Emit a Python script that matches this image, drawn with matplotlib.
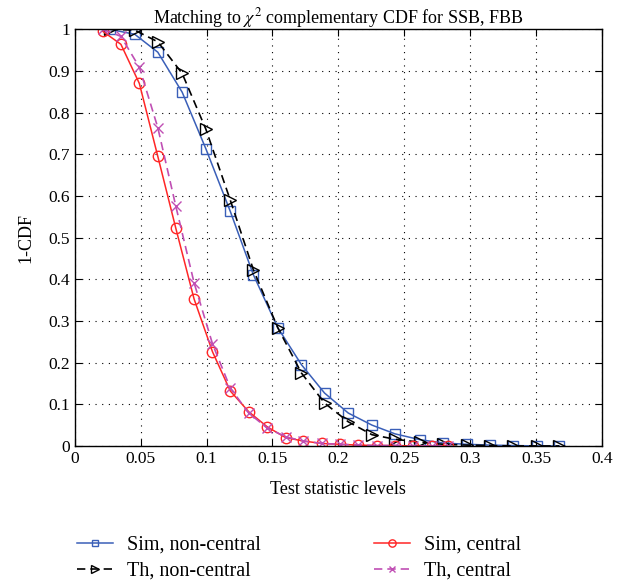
"""Matching to chi^2 complementary CDF for SSB, FBB."""
import matplotlib
matplotlib.use("Agg")
import matplotlib.pyplot as plt

# Non-central curves (simulated and theoretical) share the same test levels
x_nc = [0.0265, 0.0455, 0.0630, 0.0815, 0.0995, 0.1180, 0.1355, 0.1540, 0.1720, 0.1895,
        0.2075, 0.2255, 0.2430, 0.2620, 0.2795, 0.2975, 0.3150, 0.3325, 0.3505, 0.3675]
sim_nc = [1.000, 0.988, 0.945, 0.849, 0.713, 0.563, 0.411, 0.284, 0.195, 0.127,
          0.079, 0.050, 0.029, 0.015, 0.007, 0.004, 0.002, 0.001, 0.000, 0.000]
th_nc = [1.000, 0.998, 0.970, 0.894, 0.760, 0.590, 0.423, 0.284, 0.175, 0.103,
         0.058, 0.027, 0.016, 0.009, 0.004, 0.002, 0.001, 0.000, 0.000, 0.000]

# Central curves
x_c = [0.0213, 0.0350, 0.0490, 0.0630, 0.0767, 0.0905, 0.1045, 0.1180, 0.1320, 0.1460,
       0.1600, 0.1730, 0.1875, 0.2010, 0.2150, 0.2290, 0.2430, 0.2565, 0.2710, 0.2830]
sim_c = [0.995, 0.964, 0.870, 0.695, 0.522, 0.353, 0.226, 0.132, 0.082, 0.046,
         0.020, 0.012, 0.006, 0.004, 0.002, 0.001, 0.001, 0.000, 0.000, 0.000]
th_c = [1.000, 0.983, 0.909, 0.764, 0.575, 0.392, 0.245, 0.139, 0.079, 0.043,
        0.022, 0.012, 0.006, 0.004, 0.002, 0.001, 0.001, 0.000, 0.000, 0.000]

x_ticks = [0, 0.05, 0.1, 0.15, 0.2, 0.25, 0.3, 0.35, 0.4]
x_tick_labels = ["0", "0.05", "0.1", "0.15", "0.2", "0.25", "0.3", "0.35", "0.4"]
y_ticks = [0, 0.1, 0.2, 0.3, 0.4, 0.5, 0.6, 0.7, 0.8, 0.9, 1.0]
y_tick_labels = ["0", "0.1", "0.2", "0.3", "0.4", "0.5", "0.6", "0.7", "0.8", "0.9", "1"]

plt.rcParams["font.family"] = ["Liberation Serif", "DejaVu Serif"]
plt.rcParams["font.size"] = 12
plt.rcParams["mathtext.fontset"] = "stix"

fig = plt.figure(figsize=(6.18, 5.86), dpi=100)
ax = fig.add_axes([0.121, 0.239, 0.853, 0.711])

blue = "#3a5fb8"
red = "#ff2626"
magenta = "#c04fb4"

ax.plot(x_nc, sim_nc, color=blue, lw=1.1, marker="s", ms=7, mfc="none", mec=blue,
        mew=1.0, label="Sim, non-central")
ax.plot(x_nc, th_nc, color="black", lw=1.2, ls=(0, (5, 3)), marker=">", ms=9, mfc="none",
        mec="black", mew=1.0, label="Th, non-central")
ax.plot(x_c, sim_c, color=red, lw=1.1, marker="o", ms=7.5, mfc="none", mec=red,
        mew=1.0, label="Sim, central")
ax.plot(x_c, th_c, color=magenta, lw=1.2, ls=(0, (5, 3)), marker="x", ms=7, mec=magenta,
        mew=1.0, label="Th, central")

ax.set_xlim(0, 0.4)
ax.set_ylim(0, 1)
ax.set_xticks(x_ticks)
ax.set_xticklabels(x_tick_labels)
ax.set_yticks(y_ticks)
ax.set_yticklabels(y_tick_labels)
ax.tick_params(direction="in", top=True, right=True, length=5, labelsize=12.5)
ax.grid(True, color="black", ls=(0, (1, 5)), lw=0.8)
for s in ax.spines.values():
    s.set_linewidth(1.0)

ax.set_title(r"Matching to $\chi^2$ complementary CDF for SSB, FBB", fontsize=13, pad=4)
ax.set_xlabel("Test statistic levels", fontsize=13, labelpad=10)
ax.set_ylabel("1-CDF", fontsize=13, labelpad=10)

fig.legend(loc="upper left", bbox_to_anchor=(0.095, 0.117), ncol=2, frameon=False,
           fontsize=14.5, handlelength=1.8, columnspacing=5.6, markerscale=0.7,
           labelspacing=0.35, handletextpad=0.7)

fig.savefig("out.png", dpi=100)
